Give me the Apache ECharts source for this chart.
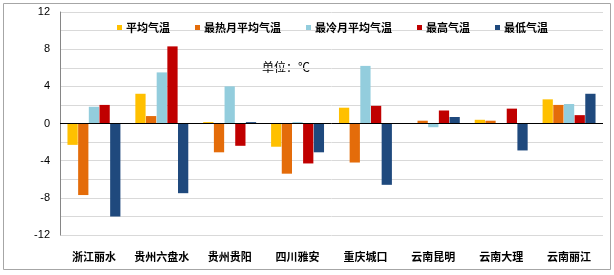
<!DOCTYPE html>
<html><head><meta charset="utf-8">
<script src="https://cdn.jsdelivr.net/npm/echarts@6/dist/echarts.min.js"></script>
<style>html,body{margin:0;padding:0;background:#fff}#c{width:614px;height:275px}</style>
</head><body><div id="c"></div>
<script>
var categories = ['浙江丽水','贵州六盘水','贵州贵阳','四川雅安','重庆城口','云南昆明','云南大理','云南丽江'];
var seriesNames = ['平均气温','最热月平均气温','最冷月平均气温','最高气温','最低气温'];
var avgTemp     = [-2.3, 3.2, 0.15, -2.5, 1.7, 0.0, 0.4, 2.6];
var hotMonth    = [-7.7, 0.8, -3.1, -5.4, -4.2, 0.3, 0.3, 2.0];
var coldMonth   = [1.8, 5.5, 4.0, 0.15, 6.2, -0.4, 0.0, 2.1];
var maxTemp     = [2.0, 8.3, -2.4, -4.3, 1.9, 1.4, 1.6, 0.9];
var minTemp     = [-10.0, -7.5, 0.15, -3.1, -6.6, 0.7, -2.9, 3.2];
var yTicks = [-12, -8, -4, 0, 4, 8, 12];
var colors = ['#FFC000','#E46C0A','#93CDDD','#C00000','#1F497D'];

var chart = echarts.init(document.getElementById('c'));
var data = [avgTemp, hotMonth, coldMonth, maxTemp, minTemp];
var series = data.map(function(d, i){
  var s = {name: seriesNames[i], type: 'bar', data: d, barGap: '4%', barCategoryGap: '22%',
    itemStyle: {color: colors[i]}};
  if (i === 0) {
    s.markLine = {silent: true, symbol: 'none', label: {show: false},
      lineStyle: {color: '#000', type: 'solid', width: 1}, data: [{yAxis: 0}], z: 10};
  }
  return s;
});
chart.setOption({
  animation: false,
  color: colors,
  grid: {left: 60, right: 11, top: 12, bottom: 40},
  legend: {left: 112, top: 17, itemWidth: 5, itemHeight: 5, itemGap: 25,
    icon: 'rect',
    textStyle: {fontFamily: 'Noto Sans CJK SC', fontWeight: 'bold', fontSize: 11, color: '#000', padding: [0,0,0,-1]},
    data: seriesNames},
  xAxis: {type: 'category', data: categories,
    axisLine: {show: false, onZero: false}, axisTick: {show: false},
    axisLabel: {interval: 0, margin: 16, fontFamily: 'Noto Sans CJK SC', fontWeight: 'bold', fontSize: 11, color: '#000'}},
  yAxis: {type: 'value', min: -12, max: 12, interval: 2,
    axisLine: {show: true, lineStyle: {color: '#868686'}}, axisTick: {show: false},
    splitLine: {lineStyle: {color: '#D9D9D9'}},
    axisLabel: {fontFamily: 'Liberation Sans', fontSize: 11, color: '#000', margin: 10,
      formatter: function(v){ return yTicks.indexOf(v) >= 0 ? String(v) : ''; }}},
  graphic: [
    {type: 'rect', shape: {x: 3.5, y: 3.5, width: 607, height: 266}, style: {fill: 'none', stroke: '#A6A6A6', lineWidth: 1}, z: -1},
    {type: 'text', left: 262, top: 61, style: {text: '单位：℃', font: '12px "Noto Sans CJK SC"', fill: '#000'}}
  ],
  series: series
});
</script></body></html>
